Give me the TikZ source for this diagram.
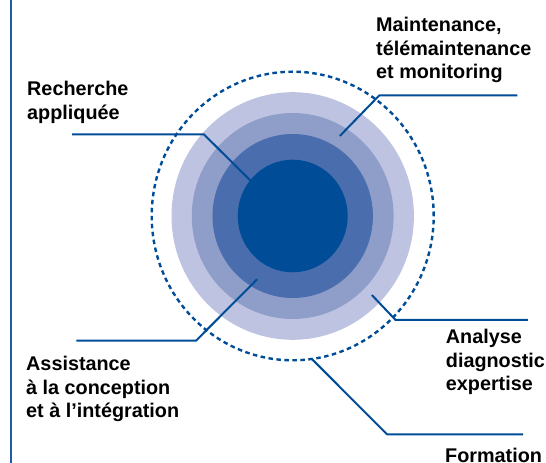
\documentclass[tikz,border=0pt]{standalone}
\usepackage{fontspec}
\setmainfont{Liberation Sans}
\definecolor{bleu}{HTML}{004C97}
\definecolor{bleuA}{HTML}{4A6DAD}
\definecolor{bleuB}{HTML}{8F9DC9}
\definecolor{bleuC}{HTML}{BDC3E0}
\definecolor{filet}{HTML}{1F5CAB}
\begin{document}
\begin{tikzpicture}[x=1pt,y=1pt,
	lien/.style={draw=bleu,line width=2pt},
	lbl/.style={anchor=base west,align=left,inner sep=0pt,
		font=\fontsize{19.8}{23.6}\selectfont\bfseries}]
	\useasboundingbox (0,0) rectangle (546,463);
	\coordinate (c) at (292.7,247);
	% anneaux
	\fill[bleuC] (c) ellipse (121.2 and 123.8);
	\fill[bleuB] (c) ellipse (100.9 and 103);
	\fill[bleuA] (c) ellipse (80.2 and 82);
	\fill[bleu] (c) ellipse (55 and 56.3);
	\draw[bleu,line width=2.4pt,dash pattern=on 4.5pt off 3.5pt] (c) ellipse (141 and 144.3);
	% filet vertical
	\draw[filet,line width=2pt] (11,0) -- (11,463);
	% textes (base = derniere ligne)
	\node[lbl] (maint) at (376,384) {Maintenance,\\t\'el\'emaintenance\\et monitoring};
	\node[lbl] (rech) at (27,343.8) {Recherche\\appliqu\'ee};
	\node[lbl] (assist) at (26,45.3) {Assistance\\\`a la conception\\et \`a l’int\'egration};
	\node[lbl] (analyse) at (445.7,72) {Analyse\\diagnostic\\expertise};
	\node[lbl] (form) at (445,0.5) {Formation};
	% traits de rappel
	\coordinate (rech-a) at (72,328.7);
	\coordinate (rech-b) at (203.8,328.7);
	\coordinate (rech-c) at (250.9,282);
	\coordinate (maint-a) at (517.4,367.5);
	\coordinate (maint-b) at (379.2,367.5);
	\coordinate (maint-c) at (339.8,327);
	\coordinate (analyse-a) at (527.8,143);
	\coordinate (analyse-b) at (395.6,143);
	\coordinate (analyse-c) at (371.8,168);
	\coordinate (form-a) at (523.2,28.7);
	\coordinate (form-b) at (387,28.7);
	\coordinate (form-c) at (312.4,103.5);
	\coordinate (assist-a) at (76.3,122.3);
	\coordinate (assist-b) at (196,122.3);
	\coordinate (assist-c) at (257.1,183.7);
	\draw[lien] (rech-a) -- (rech-b) -- (rech-c);
	\draw[lien] (maint-a) -- (maint-b) -- (maint-c);
	\draw[lien] (analyse-a) -- (analyse-b) -- (analyse-c);
	\draw[lien] (form-a) -- (form-b) -- (form-c);
	\draw[lien] (assist-a) -- (assist-b) -- (assist-c);
\end{tikzpicture}
\end{document}
